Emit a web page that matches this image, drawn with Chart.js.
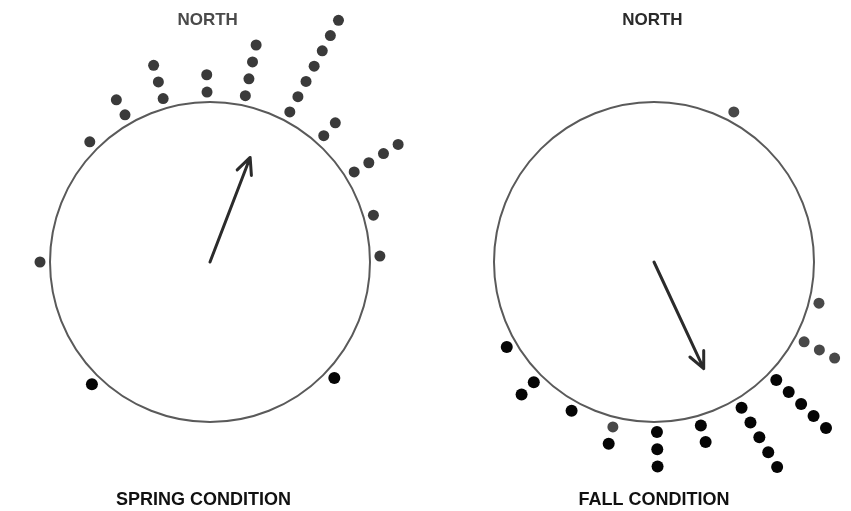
<!DOCTYPE html>
<html>
<head>
<meta charset="utf-8">
<script src="https://cdn.jsdelivr.net/npm/chart.js@4.4.1/dist/chart.umd.min.js"></script>
<style>
    html, body { margin: 0; padding: 0; background: #fff; }
    #wrap { position: relative; width: 851px; height: 511px; }
    canvas { position: absolute; top: 0; }
</style>
</head>
<body>
<div id="wrap">
    <canvas id="spring" width="425" height="511" style="left:0"></canvas>
    <canvas id="fall" width="426" height="511" style="left:425px"></canvas>
</div>
<script>
// bearings in degrees clockwise from north, one entry per stack of dots
const springBearings = [270, 315, 330, 344, 359, 12, 28, 42, 58, 74, 88, 133, 224];
const springGray = [1, 1, 2, 3, 2, 4, 7, 2, 4, 1, 1, 0, 0];
const springBlack = [0, 0, 0, 0, 0, 0, 0, 0, 0, 0, 0, 1, 1];
const springMean = 21;      // arrow bearing
const springLength = 0.70;  // arrow length as fraction of circle radius

const fallBearings = [28, 104, 118, 134, 149, 164, 179, 194, 209, 225, 240];
const fallGray = [1, 1, 3, 0, 0, 0, 0, 1, 0, 0, 0];
const fallBlack = [0, 0, 0, 5, 5, 2, 3, 1, 1, 2, 1];
const fallMean = 155;
const fallLength = 0.735;

const topLabel = 'NORTH';

// stacks start just outside the circle (radius 1), one step per dot
const FIRST_RING = 1.0625;
const RING_STEP = 0.108;

const stackPoints = function (bearings, gray, black) {
    // gray dots sit closest to the circle, black ones continue the stack
    const g = [], b = [];
    bearings.forEach((deg, i) => {
        const a = deg * Math.PI / 180;
        for (let k = 0; k < gray[i] + black[i]; k++) {
            const r = FIRST_RING + k * RING_STEP;
            const p = {x: Math.sin(a) * r, y: Math.cos(a) * r};
            (k < gray[i] ? g : b).push(p);
        }
    });
    return {g, b};
}

const dialPlugin = {
    id: 'dial',
    beforeDatasetsDraw(chart) {
        const {ctx, scales: {x, y}} = chart;
        const o = chart.options.plugins.dial;
        const cx = x.getPixelForValue(0), cy = y.getPixelForValue(0);
        const rad = x.getPixelForValue(1) - cx;
        ctx.save();
        // circle
        ctx.strokeStyle = '#5a5a5a';
        ctx.lineWidth = 2;
        ctx.beginPath();
        ctx.arc(cx, cy, rad, 0, Math.PI * 2);
        ctx.stroke();
        // mean direction arrow
        const a = o.mean * Math.PI / 180;
        const tx = x.getPixelForValue(Math.sin(a) * o.length);
        const ty = y.getPixelForValue(Math.cos(a) * o.length);
        const back = Math.atan2(cy - ty, cx - tx);
        const head = 18, spread = 25 * Math.PI / 180;
        ctx.strokeStyle = '#2b2b2b';
        ctx.lineWidth = 3;
        ctx.lineCap = 'round';
        ctx.lineJoin = 'round';
        ctx.beginPath();
        ctx.moveTo(cx, cy);
        ctx.lineTo(tx, ty);
        ctx.moveTo(tx + Math.cos(back - spread) * head, ty + Math.sin(back - spread) * head);
        ctx.lineTo(tx, ty);
        ctx.lineTo(tx + Math.cos(back + spread) * head, ty + Math.sin(back + spread) * head);
        ctx.stroke();
        // labels
        ctx.textAlign = 'center';
        ctx.textBaseline = 'middle';
        ctx.font = 'bold 17px "Liberation Sans", Arial, sans-serif';
        ctx.fillStyle = o.northColor;
        ctx.fillText(topLabel, x.getPixelForValue(o.northX), y.getPixelForValue(1.5125));
        ctx.font = 'bold 18px "Liberation Sans", Arial, sans-serif';
        ctx.fillStyle = '#111';
        ctx.fillText(o.caption, x.getPixelForValue(o.captionX), y.getPixelForValue(-1.4875));
        ctx.restore();
    }
};

const makeDial = function (id, bearings, gray, black, mean, length, caption, xMin, xMax, extra) {
    const pts = stackPoints(bearings, gray, black);
    return new Chart(document.getElementById(id), {
        type: 'scatter',
        data: {
            datasets: [
                {data: pts.g, pointRadius: 5.5, pointBackgroundColor: extra.grayColor, pointBorderWidth: 0, clip: false},
                {data: pts.b, pointRadius: 6, pointBackgroundColor: '#050505', pointBorderWidth: 0, clip: false}
            ]
        },
        options: {
            responsive: false,
            animation: false,
            events: [],
            layout: {padding: 0, autoPadding: false},
            scales: {
                x: {type: 'linear', display: false, min: xMin, max: xMax},
                y: {type: 'linear', display: false, min: -1.55625, max: 1.6375}
            },
            plugins: {
                legend: {display: false},
                tooltip: {enabled: false},
                dial: {mean, length, caption, northColor: extra.northColor, northX: extra.northX, captionX: extra.captionX}
            }
        },
        plugins: [dialPlugin]
    });
}

makeDial('spring', springBearings, springGray, springBlack, springMean, springLength,
    'SPRING CONDITION', -1.3125, 1.34375, {grayColor: '#3a3a3a', northColor: '#4a4a4a', northX: -0.015, captionX: -0.04});
makeDial('fall', fallBearings, fallGray, fallBlack, fallMean, fallLength,
    'FALL CONDITION', -1.43125, 1.23125, {grayColor: '#484848', northColor: '#2a2a2a', northX: -0.01, captionX: 0.0});
</script>
</body>
</html>
